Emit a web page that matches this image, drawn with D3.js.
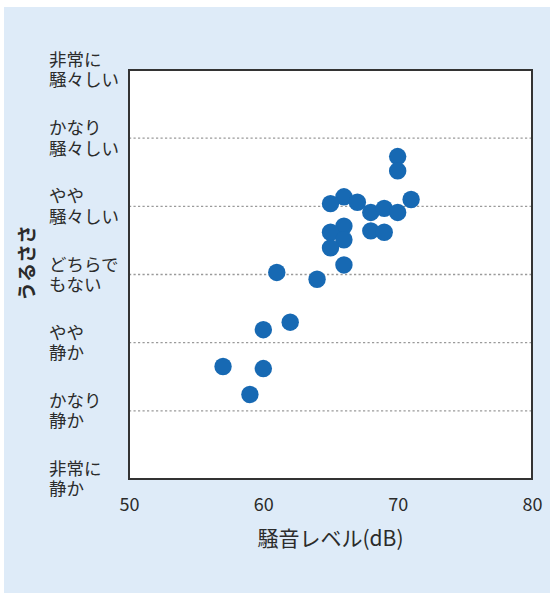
<!DOCTYPE html>
<html>
<head>
<meta charset="utf-8">
<script src="https://cdn.jsdelivr.net/npm/d3@7"></script>
<style>
  html, body { margin: 0; padding: 0; background: #fff; }
  svg { display: block; }
  text { font-family: "Noto Sans CJK JP", "Noto Sans", sans-serif; fill: #2b2b2b; }
</style>
</head>
<body>
<script>
// levels: 1 = 非常に静か ... 7 = 非常に騒々しい
var levelLabels = [
  ["非常に", "静か"],
  ["かなり", "静か"],
  ["やや", "静か"],
  ["どちらで", "もない"],
  ["やや", "騒々しい"],
  ["かなり", "騒々しい"],
  ["非常に", "騒々しい"]
];
var xTicks = [50, 60, 70, 80];

// 騒音レベル (dB)
var noiseDb = [70, 70, 66, 65, 67, 68, 69, 70, 71, 66, 65, 66, 65, 68, 69, 66, 64, 61, 60, 57, 60, 59, 62];
// うるささ (1..7)
var loudness = [5.73, 5.52, 5.14, 5.04, 5.06, 4.91, 4.97, 4.91, 5.10, 4.71, 4.62, 4.51, 4.39, 4.64, 4.62, 4.14, 3.93, 4.03, 3.19, 2.65, 2.62, 2.24, 3.30];

var width = 550, height = 593;
var plotL = 129, plotT = 70, plotR = 532, plotB = 479;

var svg = d3.select("body").append("svg")
  .attr("width", width)
  .attr("height", height);

svg.append("rect")
  .attr("x", 4).attr("y", 7)
  .attr("width", width - 4).attr("height", height - 7)
  .attr("fill", "#deebf8");

var x = d3.scaleLinear().domain([50, 80]).range([plotL, plotR]);
var y = d3.scaleLinear().domain([1, 7]).range([plotB, plotT]);

svg.append("rect")
  .attr("x", plotL).attr("y", plotT)
  .attr("width", plotR - plotL).attr("height", plotB - plotT)
  .attr("fill", "#fff");

// dotted grid
svg.append("g")
  .selectAll("line")
  .data(d3.range(2, 7))
  .enter().append("line")
    .attr("x1", plotL).attr("x2", plotR)
    .attr("y1", function(d){ return y(d); })
    .attr("y2", function(d){ return y(d); })
    .attr("stroke", "#9a9a9a")
    .attr("stroke-width", 1.3)
    .attr("stroke-dasharray", "2.2,2.3");

// points
svg.append("g")
  .selectAll("circle")
  .data(noiseDb)
  .enter().append("circle")
    .attr("cx", function(d){ return x(d); })
    .attr("cy", function(d, i){ return y(loudness[i]); })
    .attr("r", 8.7)
    .attr("fill", "#1769b3");

// frame
svg.append("rect")
  .attr("x", plotL).attr("y", plotT)
  .attr("width", plotR - plotL).attr("height", plotB - plotT)
  .attr("fill", "none")
  .attr("stroke", "#333")
  .attr("stroke-width", 2);

// x axis labels
var xAxis = d3.axisBottom(x).tickValues(xTicks).tickSize(0).tickPadding(19);
var gx = svg.append("g")
  .attr("transform", "translate(0," + plotB + ")")
  .call(xAxis);
gx.select(".domain").remove();
gx.selectAll("text")
  .attr("font-size", 18)
  .attr("font-family", "'Noto Sans CJK JP', sans-serif")
  .attr("fill", "#2b2b2b");

// y level labels (two lines, left aligned)
var yl = svg.append("g")
  .selectAll("text")
  .data(levelLabels)
  .enter().append("text")
    .attr("x", 49)
    .attr("y", function(d, i){ return y(i + 1); })
    .attr("font-size", 17.5);
yl.append("tspan")
  .attr("x", 49).attr("dy", "-0.22em")
  .text(function(d){ return d[0]; });
yl.append("tspan")
  .attr("x", 49).attr("dy", "1.16em")
  .text(function(d){ return d[1]; });

// axis titles
svg.append("text")
  .attr("x", (plotL + plotR) / 2)
  .attr("y", 546)
  .attr("text-anchor", "middle")
  .attr("font-size", 21)
  .text("騒音レベル(dB)");

svg.append("text")
  .attr("transform", "translate(34,263) rotate(-90)")
  .attr("text-anchor", "middle")
  .attr("font-size", 19)
  .attr("font-weight", "bold")
  .text("うるささ");
</script>
</body>
</html>
